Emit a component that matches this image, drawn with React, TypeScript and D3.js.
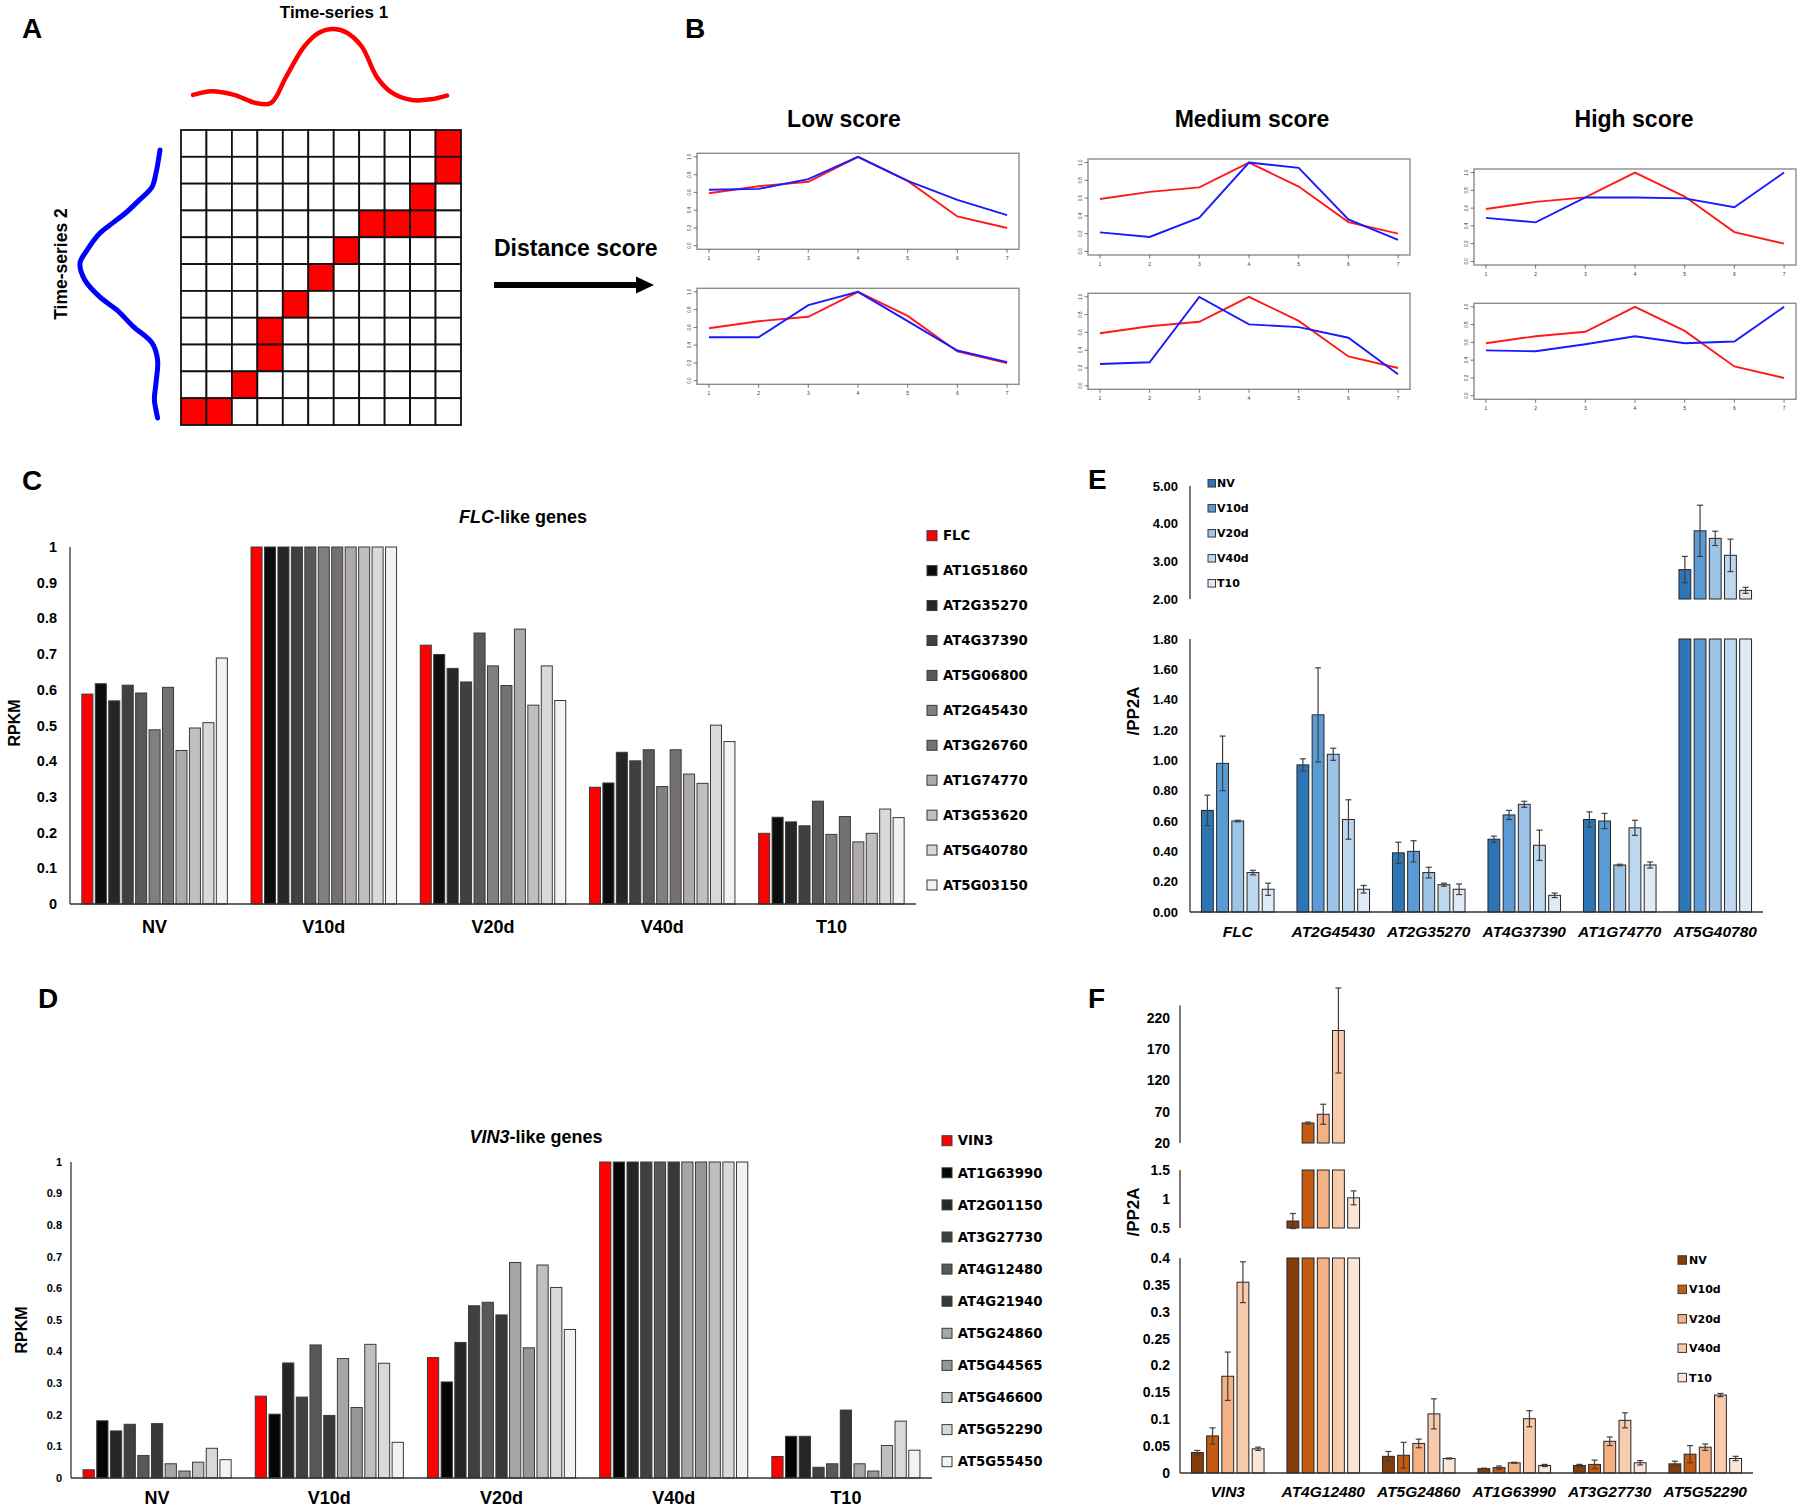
import React, { useEffect, useRef } from "react";
import * as d3 from "d3";

const SANS = "'Liberation Sans', Arial, Helvetica, sans-serif";
const LEGEND_FONT = "'DejaVu Sans', Verdana, sans-serif";

// ---------- A: warping schematic ----------
const gridCells = d3.range(11);
// [row, col] of the highlighted warping path
const warpPath: [number, number][] = [
  [0, 10], [1, 10], [2, 9], [3, 7], [3, 8], [3, 9], [4, 6],
  [5, 5], [6, 4], [7, 3], [8, 3], [9, 2], [10, 0], [10, 1],
];
const series1T = [0, 0.075, 0.162, 0.248, 0.307, 0.366, 0.437, 0.496, 0.555, 0.606, 0.665, 0.724, 0.783, 0.862, 0.937, 1];
const series1V = [0.11, 0.16, 0.11, 0, 0, 0.35, 0.76, 0.95, 1, 0.95, 0.76, 0.35, 0.14, 0.04, 0.05, 0.1];
const series2T = [0, 0.086, 0.138, 0.187, 0.235, 0.272, 0.31, 0.373, 0.422, 0.485, 0.549, 0.597, 0.66, 0.72, 0.784, 0.869, 0.933, 1];
const series2V = [0, 0.05, 0.1, 0.26, 0.43, 0.59, 0.75, 0.91, 1, 0.94, 0.75, 0.54, 0.33, 0.1, 0.03, 0.05, 0.07, 0.03];

// ---------- B: example profiles ----------
const timeIdx = [1, 2, 3, 4, 5, 6, 7];
const queryProfile = [0.59, 0.67, 0.72, 1.0, 0.73, 0.33, 0.2];
const lowScore1 = [0.63, 0.64, 0.75, 1.0, 0.73, 0.515, 0.345];
const lowScore2 = [0.49, 0.49, 0.85, 1.0, 0.67, 0.34, 0.21];
const mediumScore1 = [0.215, 0.163, 0.38, 1.0, 0.94, 0.36, 0.13];
const mediumScore2 = [0.245, 0.264, 1.0, 0.69, 0.66, 0.54, 0.13];
const highScore1 = [0.49, 0.44, 0.72, 0.72, 0.71, 0.61, 1.0];
const highScore2 = [0.51, 0.5, 0.58, 0.67, 0.59, 0.61, 1.0];
const scoreTitles = ["Low score", "Medium score", "High score"];

// ---------- C / D: RPKM ----------
const timePoints = ["NV", "V10d", "V20d", "V40d", "T10"];

const flcGenes = ["FLC", "AT1G51860", "AT2G35270", "AT4G37390", "AT5G06800", "AT2G45430", "AT3G26760", "AT1G74770", "AT3G53620", "AT5G40780", "AT5G03150"];
const flcColors = ["#ff0000", "#0d0d0d", "#262626", "#404040", "#595959", "#808080", "#767171", "#aeaaaa", "#bfbfbf", "#d9d9d9", "#f2f2f2"];
const flcNV = [0.588, 0.617, 0.569, 0.613, 0.591, 0.488, 0.607, 0.43, 0.493, 0.508, 0.689];
const flcV10d = [1, 1, 1, 1, 1, 1, 1, 1, 1, 1, 1];
const flcV20d = [0.725, 0.699, 0.66, 0.622, 0.759, 0.667, 0.612, 0.77, 0.557, 0.667, 0.57];
const flcV40d = [0.327, 0.339, 0.425, 0.401, 0.432, 0.329, 0.432, 0.364, 0.338, 0.501, 0.455];
const flcT10 = [0.198, 0.243, 0.23, 0.219, 0.288, 0.195, 0.245, 0.174, 0.198, 0.266, 0.242];

const vinGenes = ["VIN3", "AT1G63990", "AT2G01150", "AT3G27730", "AT4G12480", "AT4G21940", "AT5G24860", "AT5G44565", "AT5G46600", "AT5G52290", "AT5G55450"];
const vinColors = ["#ff0000", "#050505", "#262626", "#404040", "#595959", "#383838", "#a6a6a6", "#969696", "#bfbfbf", "#d9d9d9", "#f2f2f2"];
const vinNV = [0.026, 0.181, 0.149, 0.17, 0.071, 0.172, 0.045, 0.022, 0.05, 0.094, 0.058];
const vinV10d = [0.259, 0.202, 0.364, 0.256, 0.421, 0.198, 0.378, 0.223, 0.423, 0.363, 0.113];
const vinV20d = [0.381, 0.304, 0.429, 0.545, 0.556, 0.516, 0.682, 0.412, 0.674, 0.603, 0.47];
const vinV40d = [1, 1, 1, 1, 1, 1, 1, 1, 1, 1, 1];
const vinT10 = [0.068, 0.132, 0.132, 0.034, 0.045, 0.215, 0.045, 0.022, 0.103, 0.18, 0.088];

// ---------- E / F: qPCR relative to PP2A ----------
const blueShades = ["#2e75b6", "#5b9bd5", "#9dc3e6", "#bdd7ee", "#deebf7"];
const orangeShades = ["#843c0c", "#c55a11", "#f4b183", "#f8cbad", "#fbe5d6"];

const eGenes = ["FLC", "AT2G45430", "AT2G35270", "AT4G37390", "AT1G74770", "AT5G40780"];
const eNV = [0.67, 0.97, 0.39, 0.48, 0.61, 2.78];
const eV10d = [0.98, 1.3, 0.4, 0.64, 0.6, 3.81];
const eV20d = [0.6, 1.04, 0.26, 0.71, 0.31, 3.61];
const eV40d = [0.26, 0.61, 0.18, 0.44, 0.555, 3.16];
const eT10 = [0.15, 0.15, 0.15, 0.11, 0.31, 2.23];
const eNVErr = [0.1, 0.04, 0.07, 0.02, 0.05, 0.35];
const eV10dErr = [0.18, 0.31, 0.07, 0.03, 0.05, 0.68];
const eV20dErr = [0.005, 0.04, 0.035, 0.02, 0.005, 0.19];
const eV40dErr = [0.015, 0.13, 0.01, 0.1, 0.05, 0.43];
const eT10Err = [0.04, 0.025, 0.035, 0.015, 0.02, 0.08];

const fGenes = ["VIN3", "AT4G12480", "AT5G24860", "AT1G63990", "AT3G27730", "AT5G52290"];
const fNV = [0.038, 0.62, 0.031, 0.008, 0.014, 0.017];
const fV10d = [0.069, 52, 0.033, 0.01, 0.016, 0.035];
const fV20d = [0.18, 66, 0.055, 0.019, 0.059, 0.048];
const fV40d = [0.355, 200, 0.11, 0.101, 0.098, 0.145];
const fT10 = [0.045, 1.02, 0.027, 0.014, 0.019, 0.027];
const fNVErr = [0.004, 0.13, 0.009, 0.001, 0.002, 0.005];
const fV10dErr = [0.015, 1.5, 0.024, 0.003, 0.008, 0.016];
const fV20dErr = [0.045, 16, 0.008, 0.001, 0.008, 0.006];
const fV40dErr = [0.038, 68, 0.028, 0.015, 0.014, 0.003];
const fT10Err = [0.003, 0.12, 0.001, 0.002, 0.004, 0.004];

const fmtTrim = (v: number) => String(+v.toFixed(2));

function panelLetter(svg: any, letter: string, x: number, y: number) {
  svg.append("text").attr("x", x).attr("y", y).attr("font-family", SANS)
    .attr("font-weight", "bold").attr("font-size", 28).text(letter);
}

function drawPanelA(svg: any) {
  const g = svg.append("g");
  const col = d3.scaleBand<number>().domain(gridCells).range([181, 461]);
  const row = d3.scaleBand<number>().domain(gridCells).range([130, 425]);
  const isRed = (r: number, c: number) => warpPath.some(([pr, pc]) => pr === r && pc === c);
  const cells = gridCells.flatMap((r) => gridCells.map((c) => ({ r, c })));
  g.selectAll("rect.cell").data(cells).join("rect")
    .attr("x", (d: any) => col(d.c)).attr("y", (d: any) => row(d.r))
    .attr("width", col.bandwidth()).attr("height", row.bandwidth())
    .attr("fill", (d: any) => (isRed(d.r, d.c) ? "#ff0000" : "#ffffff"))
    .attr("stroke", "#111").attr("stroke-width", 1.8);

  // time-series 1 (top)
  const t1x = d3.scaleLinear().domain([0, 1]).range([193, 447]);
  const t1y = d3.scaleLinear().domain([0, 1]).range([103, 29]);
  const line1 = d3.line<number>().x((_, i) => t1x(series1T[i])).y((d) => t1y(d)).curve(d3.curveCatmullRom.alpha(0.5));
  g.append("path").attr("d", line1(series1V)).attr("fill", "none")
    .attr("stroke", "#ff0000").attr("stroke-width", 4.5).attr("stroke-linecap", "round");
  g.append("text").attr("x", 334).attr("y", 18).attr("text-anchor", "middle")
    .attr("font-family", SANS).attr("font-weight", "bold").attr("font-size", 17).text("Time-series 1");

  // time-series 2 (left)
  const t2y = d3.scaleLinear().domain([0, 1]).range([150, 418]);
  const t2x = d3.scaleLinear().domain([0, 1]).range([160, 80]);
  const line2 = d3.line<number>().x((d) => t2x(d)).y((_, i) => t2y(series2T[i])).curve(d3.curveCatmullRom.alpha(0.5));
  g.append("path").attr("d", line2(series2V)).attr("fill", "none")
    .attr("stroke", "#0000ff").attr("stroke-width", 5).attr("stroke-linecap", "round");
  g.append("text").attr("transform", "translate(61,264) rotate(-90)").attr("text-anchor", "middle")
    .attr("dy", "0.35em").attr("font-family", SANS).attr("font-weight", "bold").attr("font-size", 17.5)
    .text("Time-series 2");

  // distance score arrow
  g.append("text").attr("x", 494).attr("y", 256).attr("font-family", SANS)
    .attr("font-weight", "bold").attr("font-size", 23).text("Distance score");
  g.append("rect").attr("x", 494).attr("y", 282).attr("width", 144).attr("height", 6).attr("fill", "#000");
  g.append("path").attr("d", "M636,276.5 L654,285 L636,293.5 Z").attr("fill", "#000");
}

function drawSmall(g: any, left: number, top: number, blue: number[]) {
  const w = 322, h = 96;
  const x = d3.scaleLinear().domain([0.76, 7.24]).range([left, left + w]);
  const y = d3.scaleLinear().domain([-0.04, 1.04]).range([top + h, top]);
  g.append("rect").attr("x", left).attr("y", top).attr("width", w).attr("height", h)
    .attr("fill", "none").attr("stroke", "#8c8c8c").attr("stroke-width", 1.4);
  [0, 0.2, 0.4, 0.6, 0.8, 1].forEach((v) => {
    g.append("line").attr("x1", left - 3.5).attr("x2", left).attr("y1", y(v)).attr("y2", y(v))
      .attr("stroke", "#555").attr("stroke-width", 0.8);
    g.append("text").attr("transform", `translate(${left - 6},${y(v)}) rotate(-90)`)
      .attr("text-anchor", "middle").attr("font-family", SANS).attr("font-size", 4.5).attr("fill", "#333")
      .text(v.toFixed(1));
  });
  timeIdx.forEach((t) => {
    g.append("line").attr("x1", x(t)).attr("x2", x(t)).attr("y1", top + h).attr("y2", top + h + 3.5)
      .attr("stroke", "#555").attr("stroke-width", 0.8);
    g.append("text").attr("x", x(t)).attr("y", top + h + 11).attr("text-anchor", "middle")
      .attr("font-family", SANS).attr("font-size", 5).attr("fill", "#333").text(String(t));
  });
  const line = d3.line<number>().x((_, i) => x(timeIdx[i])).y((d) => y(d));
  g.append("path").attr("d", line(queryProfile)).attr("fill", "none").attr("stroke", "#ff1a1a").attr("stroke-width", 1.9);
  g.append("path").attr("d", line(blue)).attr("fill", "none").attr("stroke", "#1a1aff").attr("stroke-width", 1.9);
}

function drawPanelB(svg: any) {
  const g = svg.append("g");
  const lefts = [697, 1088, 1474];
  const titleX = [844, 1252, 1634];
  const topsRow1 = [153.3, 159, 169];
  const topsRow2 = [288.3, 293.3, 303.3];
  const upper = [lowScore1, mediumScore1, highScore1];
  const lower = [lowScore2, mediumScore2, highScore2];
  scoreTitles.forEach((t, i) => {
    g.append("text").attr("x", titleX[i]).attr("y", 127).attr("text-anchor", "middle")
      .attr("font-family", SANS).attr("font-weight", "bold").attr("font-size", 23).text(t);
    drawSmall(g, lefts[i], topsRow1[i], upper[i]);
    drawSmall(g, lefts[i], topsRow2[i], lower[i]);
  });
}

interface RpkmOpts {
  genes: string[]; colors: string[]; values: number[][];
  xLeft: number; xRight: number; yBottom: number; yTop: number;
  tickRight: number; tickSize: number; yLabel: [number, number];
  titleItalic: string; titleRest: string; titleX: number; titleY: number;
  catY: number; legSquareX: number; legTextX: number; legY0: number; legStep: number;
}

function drawRpkm(svg: any, o: RpkmOpts) {
  const g = svg.append("g");
  const x0 = d3.scaleBand().domain(timePoints).range([o.xLeft, o.xRight]).paddingInner(0.14).paddingOuter(0.07);
  const x1 = d3.scaleBand().domain(o.genes).range([0, x0.bandwidth()]).paddingInner(0.18);
  const y = d3.scaleLinear().domain([0, 1]).range([o.yBottom, o.yTop]);

  timePoints.forEach((tp, i) => {
    g.append("g").attr("transform", `translate(${x0(tp)},0)`)
      .selectAll("rect").data(o.values[i]).join("rect")
      .attr("x", (_: number, j: number) => x1(o.genes[j])!)
      .attr("y", (d: number) => y(d))
      .attr("width", x1.bandwidth())
      .attr("height", (d: number) => y(0) - y(d))
      .attr("fill", (_: number, j: number) => o.colors[j])
      .attr("stroke", "#3a3a3a").attr("stroke-width", 1);
  });

  g.append("line").attr("x1", o.xLeft).attr("x2", o.xLeft).attr("y1", y(0)).attr("y2", y(1))
    .attr("stroke", "#333").attr("stroke-width", 1.3);
  g.append("line").attr("x1", o.xLeft).attr("x2", o.xRight).attr("y1", y(0)).attr("y2", y(0))
    .attr("stroke", "#333").attr("stroke-width", 1.3);

  d3.range(0, 11).map((k) => k / 10).forEach((v) => {
    g.append("text").attr("x", o.tickRight).attr("y", y(v)).attr("dy", "0.35em").attr("text-anchor", "end")
      .attr("font-family", SANS).attr("font-weight", "bold").attr("font-size", o.tickSize).text(fmtTrim(v));
  });
  timePoints.forEach((tp) => {
    g.append("text").attr("x", x0(tp)! + x0.bandwidth() / 2).attr("y", o.catY).attr("text-anchor", "middle")
      .attr("font-family", SANS).attr("font-weight", "bold").attr("font-size", 18).text(tp);
  });
  g.append("text").attr("transform", `translate(${o.yLabel[0]},${o.yLabel[1]}) rotate(-90)`)
    .attr("text-anchor", "middle").attr("dy", "0.35em").attr("font-family", SANS)
    .attr("font-weight", "bold").attr("font-size", 16).text("RPKM");

  const title = g.append("text").attr("x", o.titleX).attr("y", o.titleY).attr("text-anchor", "middle")
    .attr("font-family", SANS).attr("font-weight", "bold").attr("font-size", 18);
  title.append("tspan").attr("font-style", "italic").text(o.titleItalic);
  title.append("tspan").text(o.titleRest);

  o.genes.forEach((gene, j) => {
    const cy = o.legY0 + j * o.legStep;
    g.append("rect").attr("x", o.legSquareX).attr("y", cy - 5).attr("width", 10).attr("height", 10)
      .attr("fill", o.colors[j]).attr("stroke", "#3a3a3a").attr("stroke-width", 1);
    g.append("text").attr("x", o.legTextX).attr("y", cy).attr("dy", "0.36em")
      .attr("font-family", LEGEND_FONT).attr("font-weight", "bold").attr("font-size", 13.3).text(gene);
  });
}

interface Segment { domain: [number, number]; range: [number, number]; ticks: number[]; fmt: (v: number) => string; }
interface QpcrOpts {
  genes: string[]; colors: string[]; means: number[][]; errs: number[][];
  xLeft: number; xRight: number; segments: Segment[]; tickRight: number; tickSize: number;
  labelY: number; yLabel: [number, number]; legSquareX: number; legSquare: number;
  legTextX: number; legY0: number; legStep: number;
}

function drawQpcr(svg: any, o: QpcrOpts) {
  const g = svg.append("g");
  const x0 = d3.scaleBand().domain(o.genes).range([o.xLeft, o.xRight]).paddingInner(0.24).paddingOuter(0.12);
  const x1 = d3.scaleBand().domain(timePoints).range([0, x0.bandwidth()]).paddingInner(0.22);

  o.segments.forEach((seg) => {
    const y = d3.scaleLinear().domain(seg.domain).range(seg.range);
    const [lo, hi] = seg.domain;
    g.append("line").attr("x1", o.xLeft).attr("x2", o.xLeft).attr("y1", seg.range[0]).attr("y2", seg.range[1])
      .attr("stroke", "#333").attr("stroke-width", 1.3);
    seg.ticks.forEach((v) => {
      g.append("text").attr("x", o.tickRight).attr("y", y(v)).attr("dy", "0.35em").attr("text-anchor", "end")
        .attr("font-family", SANS).attr("font-weight", "bold").attr("font-size", o.tickSize).text(seg.fmt(v));
    });
    o.genes.forEach((gene, gi) => {
      timePoints.forEach((tp, si) => {
        const v = o.means[si][gi];
        if (v <= lo) return;
        const top = Math.min(v, hi);
        const bx = x0(gene)! + x1(tp)!;
        g.append("rect").attr("x", bx).attr("y", y(top)).attr("width", x1.bandwidth())
          .attr("height", y(lo) - y(top)).attr("fill", o.colors[si])
          .attr("stroke", "#262626").attr("stroke-width", 1);
        if (v <= hi) {
          const e = o.errs[si][gi];
          const cx = bx + x1.bandwidth() / 2;
          const eb = g.append("g").attr("stroke", "#404040").attr("stroke-width", 1.2);
          eb.append("line").attr("x1", cx).attr("x2", cx).attr("y1", y(v - e)).attr("y2", y(v + e));
          eb.append("line").attr("x1", cx - 3).attr("x2", cx + 3).attr("y1", y(v - e)).attr("y2", y(v - e));
          eb.append("line").attr("x1", cx - 3).attr("x2", cx + 3).attr("y1", y(v + e)).attr("y2", y(v + e));
        }
      });
    });
  });

  const base = o.segments[0].range[0];
  g.append("line").attr("x1", o.xLeft).attr("x2", o.xRight).attr("y1", base).attr("y2", base)
    .attr("stroke", "#333").attr("stroke-width", 1.3);

  o.genes.forEach((gene) => {
    g.append("text").attr("x", x0(gene)! + x0.bandwidth() / 2).attr("y", o.labelY).attr("text-anchor", "middle")
      .attr("font-family", SANS).attr("font-weight", "bold").attr("font-style", "italic")
      .attr("font-size", 15.5).text(gene);
  });
  g.append("text").attr("transform", `translate(${o.yLabel[0]},${o.yLabel[1]}) rotate(-90)`)
    .attr("text-anchor", "middle").attr("dy", "0.35em").attr("font-family", SANS)
    .attr("font-weight", "bold").attr("font-size", 17).text("/PP2A");

  timePoints.forEach((tp, si) => {
    const cy = o.legY0 + si * o.legStep;
    g.append("rect").attr("x", o.legSquareX).attr("y", cy - o.legSquare / 2)
      .attr("width", o.legSquare).attr("height", o.legSquare)
      .attr("fill", o.colors[si]).attr("stroke", "#3a3a3a").attr("stroke-width", 1);
    g.append("text").attr("x", o.legTextX).attr("y", cy).attr("dy", "0.36em")
      .attr("font-family", LEGEND_FONT).attr("font-weight", "bold").attr("font-size", 11).text(tp);
  });
}

const App: React.FC = () => {
  const svgRef = useRef<SVGSVGElement | null>(null);

  useEffect(() => {
    if (!svgRef.current) return;
    const svg = d3.select(svgRef.current);
    svg.selectAll("*").remove();
    svg.append("rect").attr("width", 1800).attr("height", 1510).attr("fill", "#fff");

    drawPanelA(svg);
    drawPanelB(svg);

    drawRpkm(svg, {
      genes: flcGenes, colors: flcColors, values: [flcNV, flcV10d, flcV20d, flcV40d, flcT10],
      xLeft: 70, xRight: 916, yBottom: 904, yTop: 547, tickRight: 57, tickSize: 14.5,
      yLabel: [14, 723], titleItalic: "FLC", titleRest: "-like genes", titleX: 523, titleY: 523,
      catY: 933, legSquareX: 927, legTextX: 943, legY0: 535.7, legStep: 34.93,
    });
    drawRpkm(svg, {
      genes: vinGenes, colors: vinColors, values: [vinNV, vinV10d, vinV20d, vinV40d, vinT10],
      xLeft: 71, xRight: 932, yBottom: 1478, yTop: 1162, tickRight: 62, tickSize: 11,
      yLabel: [21, 1330], titleItalic: "VIN3", titleRest: "-like genes", titleX: 536, titleY: 1143,
      catY: 1504, legSquareX: 942, legTextX: 957.7, legY0: 1140.7, legStep: 32.1,
    });

    drawQpcr(svg, {
      genes: eGenes, colors: blueShades,
      means: [eNV, eV10d, eV20d, eV40d, eT10], errs: [eNVErr, eV10dErr, eV20dErr, eV40dErr, eT10Err],
      xLeft: 1190, xRight: 1763, tickRight: 1178, tickSize: 13,
      segments: [
        { domain: [0, 1.8], range: [912, 639], ticks: d3.range(0, 10).map((k) => k * 0.2), fmt: d3.format(".2f") },
        { domain: [2, 5], range: [599, 486], ticks: [2, 3, 4, 5], fmt: d3.format(".2f") },
      ],
      labelY: 937, yLabel: [1133, 711], legSquareX: 1208, legSquare: 7.5, legTextX: 1217,
      legY0: 483.3, legStep: 25,
    });
    drawQpcr(svg, {
      genes: fGenes, colors: orangeShades,
      means: [fNV, fV10d, fV20d, fV40d, fT10], errs: [fNVErr, fV10dErr, fV20dErr, fV40dErr, fT10Err],
      xLeft: 1180, xRight: 1753, tickRight: 1170, tickSize: 14,
      segments: [
        { domain: [0, 0.4], range: [1473, 1258], ticks: d3.range(0, 9).map((k) => k * 0.05), fmt: fmtTrim },
        { domain: [0.5, 1.5], range: [1228, 1170], ticks: [0.5, 1, 1.5], fmt: fmtTrim },
        { domain: [20, 240], range: [1143, 1005.5], ticks: [20, 70, 120, 170, 220], fmt: fmtTrim },
      ],
      labelY: 1497, yLabel: [1133, 1212], legSquareX: 1678, legSquare: 8.5, legTextX: 1689,
      legY0: 1260, legStep: 29.4,
    });

    panelLetter(svg, "A", 22, 38);
    panelLetter(svg, "B", 685, 38);
    panelLetter(svg, "C", 22, 490);
    panelLetter(svg, "D", 38, 1008);
    panelLetter(svg, "E", 1088, 489);
    panelLetter(svg, "F", 1088, 1008);
  }, []);

  return (
    <svg ref={svgRef} width={1800} height={1510}
      style={{ position: "absolute", left: 0, top: 0, display: "block" }} />
  );
};

export default App;
